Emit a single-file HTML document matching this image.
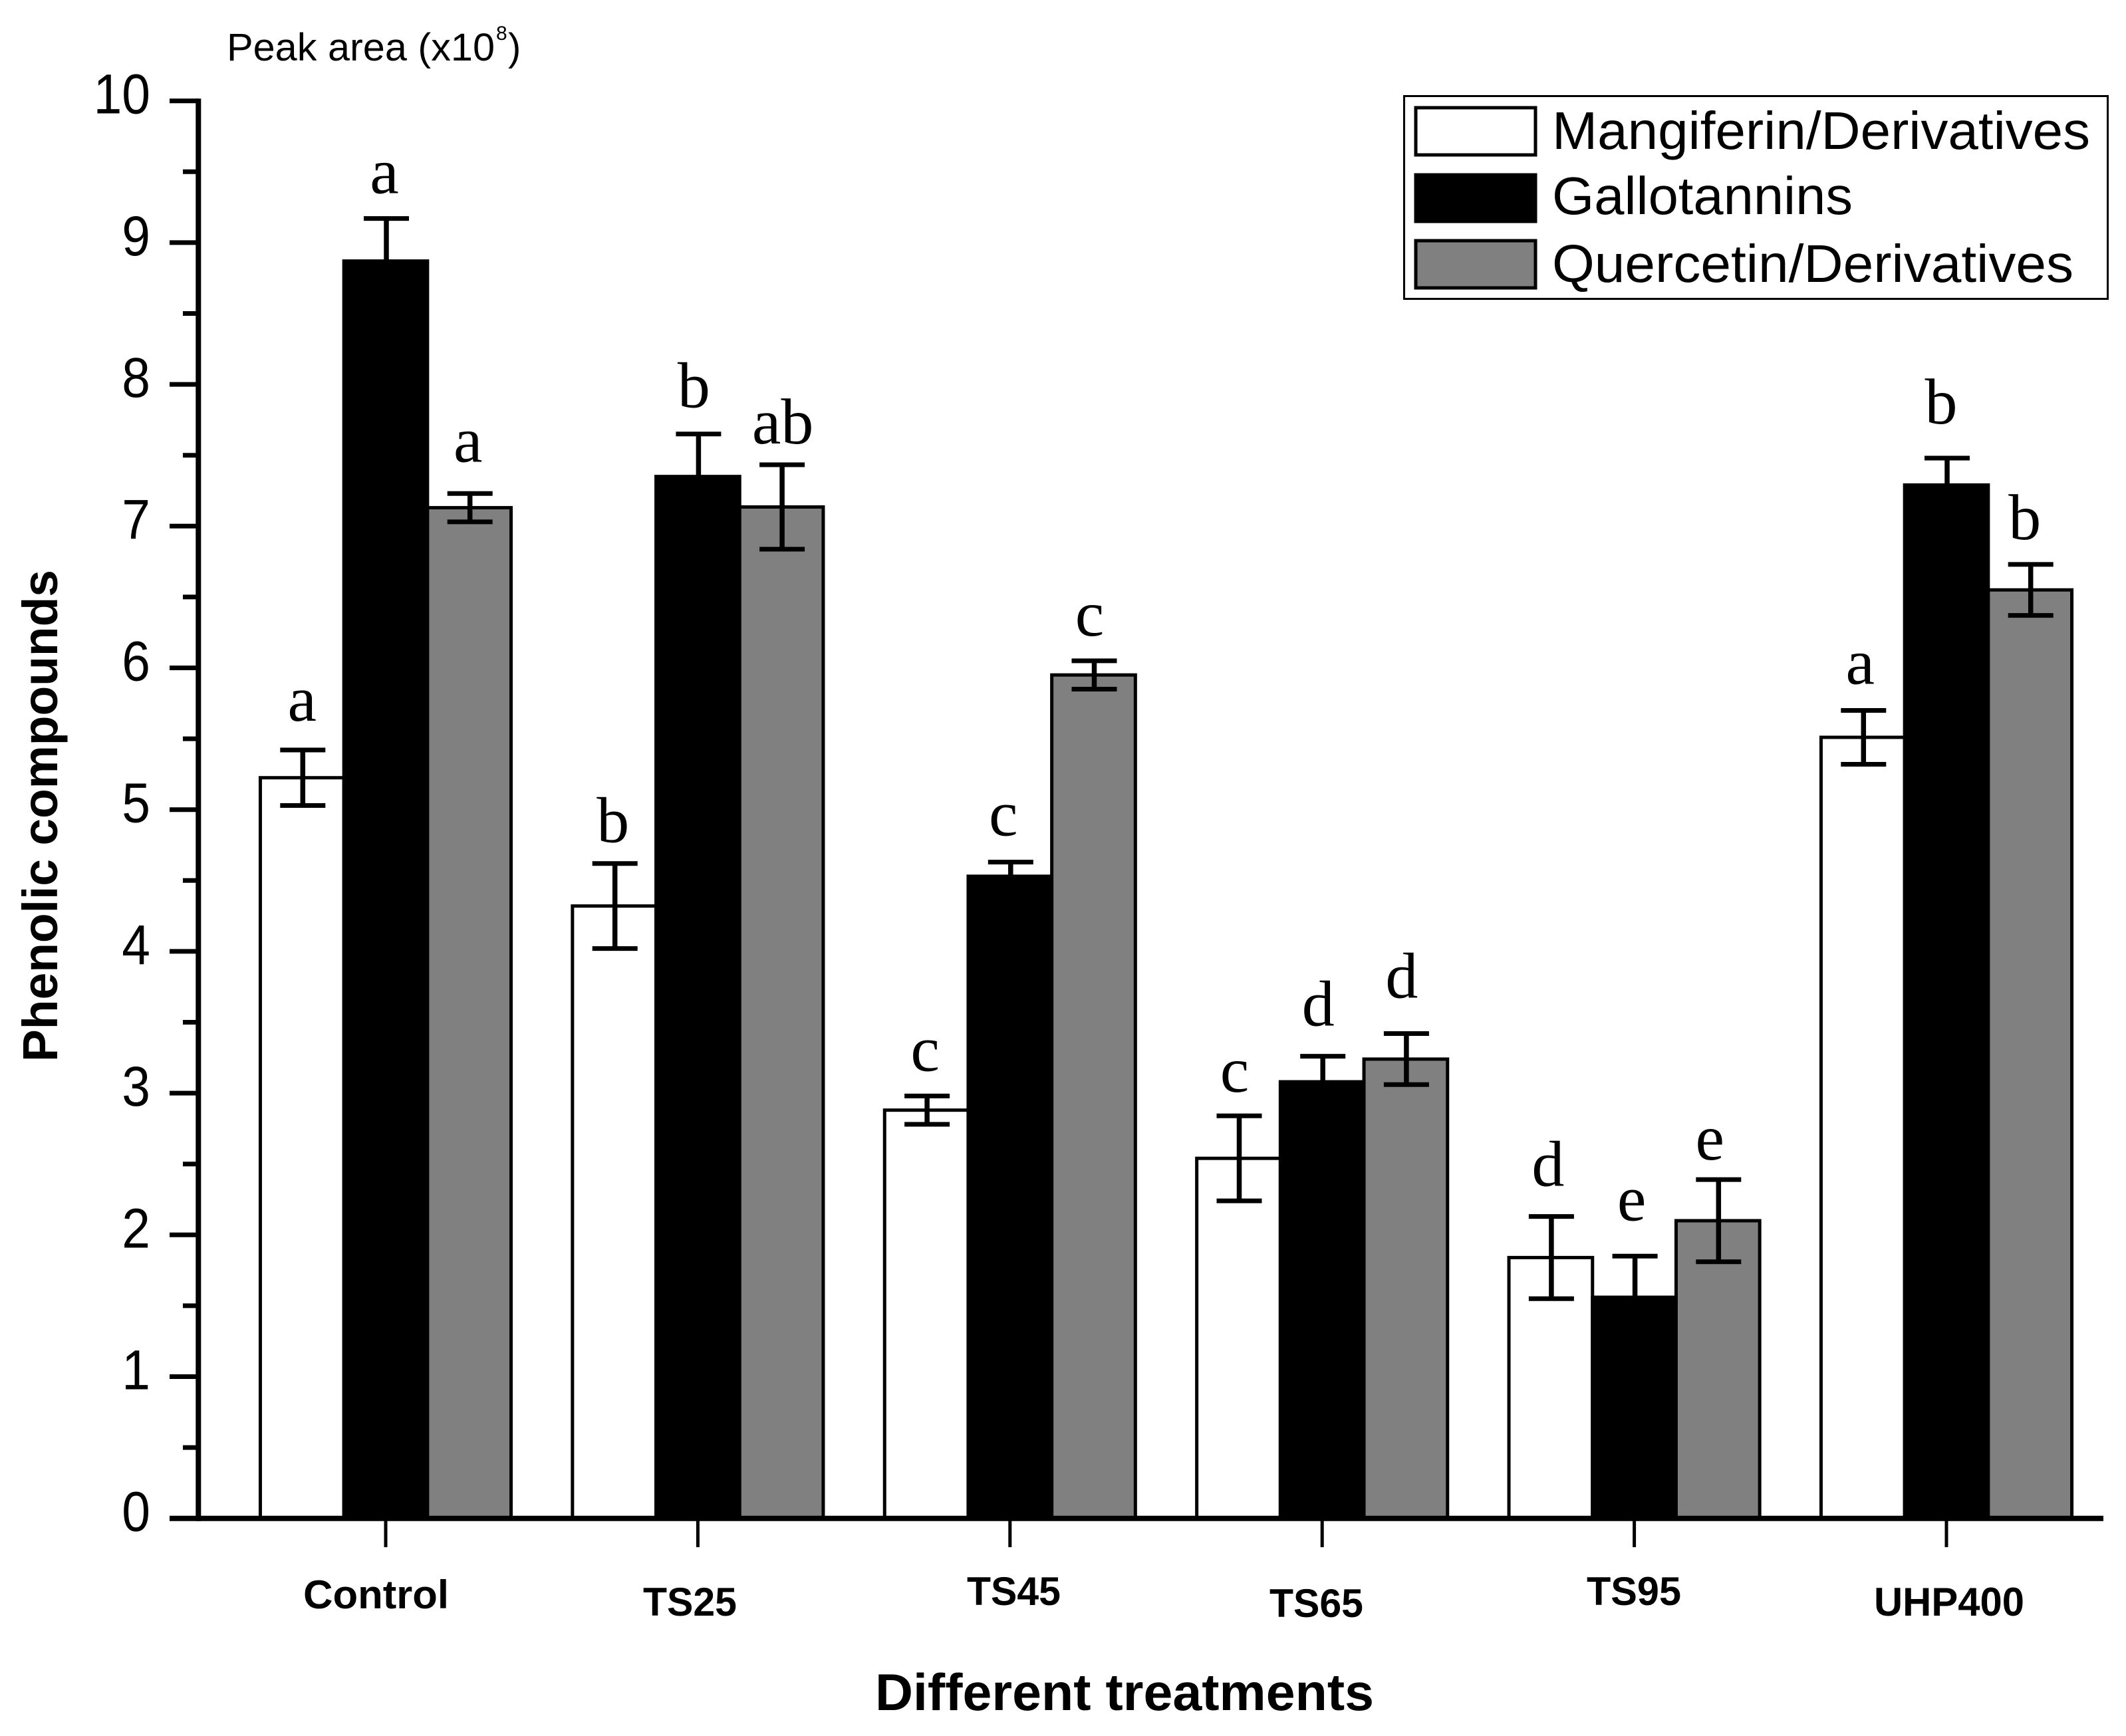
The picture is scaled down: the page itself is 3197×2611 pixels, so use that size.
<!DOCTYPE html>
<html lang="en">
<head>
<meta charset="utf-8">
<title>Phenolic compounds by treatment</title>
<style>
html,body{margin:0;padding:0;background:#fff;}
svg{display:block;}
text{fill:#000;}
.sans{font-family:"Liberation Sans",sans-serif;}
.serif{font-family:"Liberation Serif",serif;}
</style>
</head>
<body>
<svg id="chart" xmlns="http://www.w3.org/2000/svg" width="3197" height="2611" viewBox="0 0 3197 2611">
  <rect x="0" y="0" width="3197" height="2611" fill="#fff"/>
  <text class="sans" x="341" y="91" font-size="58" textLength="403" lengthAdjust="spacingAndGlyphs">Peak area (x10</text>
  <text class="sans" x="746" y="60" font-size="30">8</text>
  <text class="sans" x="764" y="91" font-size="58">)</text>
  <text class="sans" font-weight="700" font-size="74" text-anchor="middle" textLength="740" lengthAdjust="spacingAndGlyphs" transform="translate(86 1227) rotate(-90)">Phenolic compounds</text>
  <text class="sans" font-weight="700" font-size="78" x="1316" y="2572" textLength="750" lengthAdjust="spacingAndGlyphs">Different treatments</text>
  <g id="bars"></g>
  <g id="axes"></g>
  <g id="legend">
    <rect x="2111.5" y="144.5" width="1058" height="305" fill="#fff" stroke="#000" stroke-width="3"/>
    <rect x="2129" y="162" width="180" height="71" fill="#fff" stroke="#000" stroke-width="5"/>
    <text class="sans" x="2334" y="224" font-size="80" textLength="809" lengthAdjust="spacingAndGlyphs">Mangiferin/Derivatives</text>
    <rect x="2129" y="263" width="180" height="70" fill="#000" stroke="#000" stroke-width="5"/>
    <text class="sans" x="2334" y="322" font-size="80" textLength="452" lengthAdjust="spacingAndGlyphs">Gallotannins</text>
    <rect x="2129" y="362" width="180" height="71" fill="#808080" stroke="#000" stroke-width="5"/>
    <text class="sans" x="2334" y="424" font-size="80" textLength="784" lengthAdjust="spacingAndGlyphs">Quercetin/Derivatives</text>
  </g>
</svg>
<script>
const categories = ["Control", "TS25", "TS45", "TS65", "TS95", "UHP400"];
const seriesNames = ["mangiferin", "gallotannins", "quercetin"];
const mangiferin = [5.225, 4.32, 2.88, 2.54, 1.84, 5.51];
const gallotannins = [8.87, 7.35, 4.53, 3.08, 1.56, 7.29];
const quercetin = [7.13, 7.135, 5.95, 3.24, 2.10, 6.55];
const mangiferinErr = [0.196, 0.30, 0.10, 0.30, 0.29, 0.19];
const gallotanninsErr = [0.30, 0.30, 0.10, 0.18, 0.29, 0.19];
const quercetinErr = [0.10, 0.298, 0.10, 0.18, 0.29, 0.18];
const mangiferinLetters = ["a", "b", "c", "c", "d", "a"];
const gallotanninsLetters = ["a", "b", "c", "d", "e", "b"];
const quercetinLetters = ["a", "ab", "c", "d", "e", "b"];
const yTicks = [0, 1, 2, 3, 4, 5, 6, 7, 8, 9, 10];
const yMinorTicks = [0.5, 1.5, 2.5, 3.5, 4.5, 5.5, 6.5, 7.5, 8.5, 9.5];

const NS = "http://www.w3.org/2000/svg";
function yScale(v) { return 2283.7 - v * 213.2; }
function xScale(i) { return 580 + i * 469.4; }
const BAR_W = 125.7;
function make(tag, attrs, parent, content) {
  const node = document.createElementNS(NS, tag);
  for (const k in attrs) node.setAttribute(k, attrs[k]);
  if (content !== undefined) node.textContent = content;
  parent.appendChild(node);
  return node;
}

function drawBars() {
  const g = document.getElementById("bars");
  const values = [mangiferin, gallotannins, quercetin];
  const errs = [mangiferinErr, gallotanninsErr, quercetinErr];
  const letters = [mangiferinLetters, gallotanninsLetters, quercetinLetters];
  const fills = ["#fff", "#000", "#808080"];
  const letterDx = [[4, 2, 2, -2, 0, 0], [2, -2, -6, -2, 0, -4], [2, 6, -2, -2, -8, -4]];
  const letterDy = [[-8, 4, -2, 0, -10, -4], [-2, -4, -4, -10, -18, -16], [-12, 4, -2, -18, 6, -2]];
  categories.forEach(function (cat, i) {
    seriesNames.forEach(function (name, s) {
      const v = values[s][i];
      const e = errs[s][i];
      const left = xScale(i) + (s - 1.5) * BAR_W;
      const cx = left + BAR_W / 2 + 1;
      const bar = make("rect", { x: left, y: yScale(v), width: BAR_W, height: yScale(0) - yScale(v), fill: fills[s], stroke: "#000", "stroke-width": 5 }, g);
      
      
      const stem = make("line", { x1: cx, x2: cx, y1: yScale(v + e), y2: yScale(v - e), stroke: "#000", "stroke-width": 7.5 }, g);
      
      
      const capTop = make("line", { x1: cx - 34, x2: cx + 34, y1: yScale(v + e), y2: yScale(v + e), stroke: "#000", "stroke-width": 7 }, g);
      
      
      const capBot = make("line", { x1: cx - 34, x2: cx + 34, y1: yScale(v - e), y2: yScale(v - e), stroke: "#000", "stroke-width": 7 }, g);
      
      
      const lab = make("text", { x: cx - 5 + letterDx[s][i], y: yScale(v + e) - 36 + letterDy[s][i], "text-anchor": "middle", "font-size": 98, class: "serif" }, g, letters[s][i]);
      
      
    });
  });
}

function drawAxes() {
  const g = document.getElementById("axes");
  const yAxis = make("line", { x1: 298.3, x2: 298.3, y1: yScale(10) - 3.5, y2: yScale(0) + 4, stroke: "#000", "stroke-width": 8 }, g);
  
  
  const xAxis = make("line", { x1: 255, x2: 3163, y1: yScale(0), y2: yScale(0), stroke: "#000", "stroke-width": 8 }, g);
  
  
  yTicks.forEach(function (t) {
    const tick = make("line", { x1: 255, x2: 298, y1: yScale(t), y2: yScale(t), stroke: "#000", "stroke-width": 7 }, g);
    
    
    const lab = make("text", { transform: "translate(226 " + (yScale(t) + 19) + ") scale(0.96 1.05)", "text-anchor": "end", "font-size": 80, class: "sans" }, g, String(t));
    
    
  });
  yMinorTicks.forEach(function (t) {
    const tick = make("line", { x1: 275, x2: 298, y1: yScale(t), y2: yScale(t), stroke: "#000", "stroke-width": 7 }, g);
    
    
  });
  const labelLeft = [456, 967, 1454, 1909, 2386, 2818];
  const labelBase = [2419, 2430, 2414, 2432, 2414, 2430];
  const labelWidth = [219, 141, 141, 141, 142, 226];
  categories.forEach(function (cat, i) {
    const tick = make("line", { x1: xScale(i), x2: xScale(i), y1: yScale(0), y2: 2327, stroke: "#000", "stroke-width": 5 }, g);
    
    
    const lab = make("text", { x: labelLeft[i], y: labelBase[i], textLength: labelWidth[i], lengthAdjust: "spacingAndGlyphs", "font-size": 60, "font-weight": 700, class: "sans" }, g, cat);
    
    
  });
}

drawBars();
drawAxes();
</script>
</body>
</html>
